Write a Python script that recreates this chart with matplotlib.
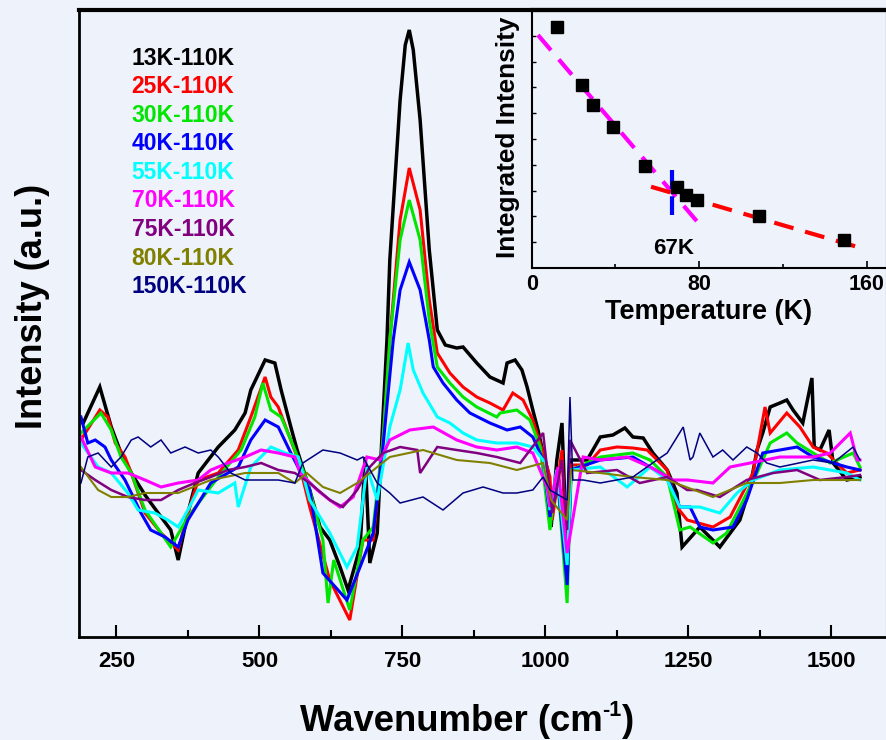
import matplotlib
matplotlib.use("Agg")
import matplotlib.pyplot as plt
from matplotlib.ticker import MultipleLocator

plt.rcParams['font.family'] = ['Liberation Sans', 'DejaVu Sans']
plt.rcParams['font.weight'] = 'bold'

BG = '#eef2fa'

# difference spectra (X K - 110 K), wavenumber (cm-1) / intensity (a.u.)
w_13 = [192, 221, 241, 258, 276, 300, 323, 345, 358, 375, 393, 428, 457, 475, 485, 510, 527, 538, 555, 566,
        588, 606, 623, 641, 655, 676, 685, 693, 706, 714, 723, 728, 746, 755, 762, 769, 781, 797, 811, 825,
        845, 856, 880, 903, 926, 933, 947, 959, 968, 978, 987, 996, 1005, 1010, 1020, 1029, 1038, 1045, 1073,
        1096, 1118, 1139, 1153, 1171, 1188, 1213, 1230, 1239, 1270, 1305, 1340, 1358, 1370, 1380, 1393, 1410,
        1422, 1433, 1450, 1466, 1470, 1480, 1496, 1503, 1527, 1550]
i_13 = [0.47, 0.83, 0.43, 0.17, -0.03, -0.25, -0.43, -0.60, -0.90, -0.43, -0.03, 0.23, 0.40, 0.57, 0.80, 1.10,
        1.07, 0.80, 0.43, 0.20, -0.20, -0.57, -0.70, -0.97, -1.20, -0.77, 0.13, -0.93, -0.63, 0.30, 1.30, 2.10,
        3.70, 4.25, 4.40, 4.20, 3.50, 2.20, 1.40, 1.25, 1.22, 1.23, 1.07, 0.93, 0.87, 1.07, 1.10, 1.00, 0.83,
        0.60, 0.40, 0.17, -0.03, -0.57, 0.10, 0.47, -0.90, 0.10, 0.10, 0.33, 0.35, 0.42, 0.33, 0.32, 0.17, 0.00,
        -0.23, -0.77, -0.57, -0.77, -0.50, -0.17, 0.20, 0.37, 0.63, 0.67, 0.70, 0.60, 0.47, 0.92, 0.23, 0.20,
        0.40, 0.07, -0.10, -0.07]

w_25 = [188, 221, 235, 248, 265, 276, 300, 328, 358, 375, 393, 428, 463, 485, 510, 520, 533, 550, 568, 588,
        623, 658, 681, 699, 716, 728, 746, 762, 781, 797, 811, 833, 856, 880, 903, 926, 943, 961, 978, 996,
        1008, 1012, 1029, 1038, 1045, 1073, 1096, 1125, 1153, 1178, 1213, 1230, 1248, 1293, 1323, 1363, 1384,
        1393, 1422, 1445, 1468, 1492, 1527, 1550]
i_25 = [0.30, 0.60, 0.53, 0.27, 0.13, -0.03, -0.43, -0.63, -0.80, -0.43, -0.10, -0.03, 0.20, 0.53, 0.93, 0.73,
        0.63, 0.37, 0.10, -0.37, -1.10, -1.50, -0.70, -0.70, 0.30, 1.30, 2.50, 3.02, 2.60, 1.70, 1.17, 0.97,
        0.83, 0.73, 0.67, 0.60, 0.77, 0.70, 0.50, 0.17, -0.07, -0.50, 0.20, -1.10, 0.05, 0.05, 0.20, 0.23, 0.22,
        0.20, 0.00, -0.37, -0.50, -0.57, -0.47, -0.03, 0.63, 0.37, 0.57, 0.43, 0.23, 0.17, -0.03, 0.00]

w_30 = [188, 223, 241, 258, 276, 300, 345, 375, 428, 468, 492, 506, 520, 538, 555, 583, 611, 620, 630, 658,
        681, 699, 716, 728, 746, 762, 781, 797, 811, 833, 856, 880, 915, 921, 950, 973, 991, 1008, 1020, 1038,
        1045, 1096, 1153, 1183, 1213, 1235, 1253, 1293, 1317, 1340, 1370, 1393, 1422, 1440, 1468, 1498, 1538,
        1550]
i_30 = [0.37, 0.57, 0.40, 0.13, -0.03, -0.40, -0.77, -0.47, -0.07, 0.20, 0.53, 0.87, 0.60, 0.53, 0.30, -0.10,
        -0.70, -1.33, -0.90, -1.40, -0.70, -0.57, 0.30, 1.30, 2.30, 2.70, 2.30, 1.50, 1.03, 0.87, 0.73, 0.63,
        0.53, 0.57, 0.60, 0.50, 0.23, -0.60, 0.00, -1.33, 0.00, 0.13, 0.17, 0.10, -0.07, -0.60, -0.57, -0.73,
        -0.63, -0.37, -0.03, 0.27, 0.37, 0.27, 0.17, 0.07, 0.17, 0.03]

w_40 = [188, 200, 213, 230, 241, 265, 293, 310, 335, 358, 375, 415, 463, 485, 510, 533, 555, 588, 611, 653,
        676, 699, 716, 734, 746, 762, 781, 797, 804, 821, 845, 868, 903, 933, 956, 978, 996, 1008, 1020, 1038,
        1045, 1096, 1153, 1213, 1235, 1253, 1270, 1293, 1328, 1352, 1380, 1410, 1440, 1468, 1527, 1550]
i_40 = [0.53, 0.27, 0.30, 0.23, 0.10, -0.10, -0.43, -0.60, -0.67, -0.77, -0.50, -0.13, 0.03, 0.30, 0.50, 0.43,
        0.17, -0.20, -1.03, -1.30, -0.97, -0.63, 0.23, 1.30, 1.80, 2.08, 1.80, 1.30, 1.03, 0.87, 0.70, 0.57,
        0.47, 0.40, 0.43, 0.33, 0.10, -0.47, 0.00, -1.15, 0.00, 0.10, 0.13, -0.07, -0.37, -0.37, -0.57, -0.60,
        -0.57, -0.30, 0.17, 0.20, 0.23, 0.13, 0.03, 0.00]

w_55 = [188, 218, 241, 270, 288, 317, 340, 358, 375, 393, 428, 457, 463, 485, 520, 545, 568, 588, 623, 653,
        671, 688, 706, 728, 746, 760, 769, 786, 811, 833, 856, 880, 915, 950, 978, 996, 1008, 1020, 1038, 1045,
        1096, 1143, 1183, 1213, 1235, 1270, 1305, 1335, 1363, 1410, 1468, 1527, 1550]
i_55 = [0.27, 0.03, -0.03, -0.23, -0.40, -0.43, -0.50, -0.57, -0.40, -0.20, -0.23, -0.13, -0.37, 0.03, 0.23,
        0.17, 0.13, -0.30, -0.63, -0.97, -0.77, 0.03, -0.30, 0.43, 0.80, 1.27, 1.00, 0.77, 0.53, 0.47, 0.37, 0.30,
        0.27, 0.27, 0.23, 0.10, -0.40, 0.00, -0.95, 0.00, 0.03, -0.17, 0.03, -0.10, -0.37, -0.37, -0.43, -0.23,
        -0.10, 0.00, 0.03, -0.03, -0.10]

w_70 = [188, 213, 241, 270, 300, 328, 358, 393, 415, 445, 475, 503, 533, 562, 571, 601, 623, 641, 664, 688,
        711, 728, 763, 804, 845, 880, 915, 950, 978, 1003, 1008, 1022, 1038, 1066, 1096, 1143, 1183, 1223, 1248,
        1293, 1323, 1358, 1410, 1468, 1498, 1533, 1545, 1550]
i_70 = [0.33, 0.03, -0.03, -0.03, -0.10, -0.17, -0.13, -0.10, 0.00, 0.07, 0.13, 0.20, 0.17, 0.13, -0.03, -0.20,
        -0.30, -0.37, -0.27, 0.13, 0.10, 0.30, 0.40, 0.43, 0.30, 0.23, 0.20, 0.23, 0.17, -0.17, -0.37, 0.03,
        -0.83, 0.13, 0.10, 0.13, 0.03, -0.10, -0.10, -0.13, 0.03, 0.07, 0.13, 0.13, 0.17, 0.37, 0.10, 0.10]

w_75 = [188, 213, 241, 270, 300, 328, 358, 387, 415, 445, 475, 503, 533, 562, 588, 623, 646, 671, 693, 716,
        746, 776, 781, 811, 845, 880, 915, 956, 996, 1012, 1029, 1038, 1043, 1073, 1125, 1165, 1213, 1248, 1265,
        1305, 1352, 1398, 1440, 1480, 1527, 1550]
i_75 = [0.00, -0.10, -0.20, -0.27, -0.30, -0.30, -0.20, -0.13, -0.07, 0.00, 0.03, 0.07, 0.00, -0.03, -0.13,
        -0.30, -0.37, -0.20, 0.03, 0.17, 0.23, 0.20, -0.03, 0.23, 0.20, 0.17, 0.13, 0.07, 0.37, -0.43, 0.10,
        -0.60, 0.30, -0.03, 0.00, -0.13, -0.07, -0.20, -0.20, -0.27, -0.10, -0.03, 0.00, -0.10, -0.07, -0.05]

w_80 = [188, 218, 241, 270, 300, 358, 415, 475, 533, 562, 583, 611, 641, 671, 728, 786, 845, 903, 950, 996,
        1010, 1038, 1045, 1096, 1153, 1213, 1293, 1352, 1410, 1468, 1527, 1550]
i_80 = [0.03, -0.20, -0.27, -0.27, -0.23, -0.23, -0.10, -0.03, -0.03, -0.13, -0.03, -0.17, -0.23, -0.13, 0.13,
        0.20, 0.10, 0.07, 0.00, 0.07, -0.30, -0.50, 0.00, -0.03, -0.07, -0.10, -0.27, -0.13, -0.13, -0.10,
        -0.10, -0.10]

w_150 = [188, 200, 218, 241, 258, 276, 288, 310, 328, 345, 370, 393, 415, 428, 450, 475, 498, 533, 562, 576,
         611, 641, 671, 681, 706, 728, 746, 786, 821, 856, 891, 926, 950, 978, 996, 1008, 1038, 1043, 1048,
         1066, 1096, 1153, 1195, 1213, 1241, 1253, 1258, 1270, 1293, 1310, 1328, 1352, 1370, 1387, 1410, 1468,
         1503, 1538, 1550]
i_150 = [-0.13, 0.13, 0.17, 0.03, 0.13, 0.30, 0.33, 0.23, 0.30, 0.17, 0.23, 0.17, 0.20, 0.13, -0.03, -0.10,
         -0.10, -0.10, -0.13, 0.07, 0.20, 0.17, 0.10, 0.13, -0.13, -0.23, -0.33, -0.27, -0.40, -0.23, -0.17,
         -0.23, -0.23, -0.20, -0.07, -0.20, -0.30, 0.73, -0.10, -0.10, -0.13, -0.07, 0.10, 0.17, 0.43, 0.10,
         0.13, 0.37, 0.13, 0.20, 0.10, 0.23, 0.17, 0.07, 0.03, 0.10, 0.07, 0.23, 0.10]

labels = ['13K-110K', '25K-110K', '30K-110K', '40K-110K', '55K-110K',
          '70K-110K', '75K-110K', '80K-110K', '150K-110K']
colors = ['black', '#ff0000', '#00e600', '#0000ff', '#00ffff',
          '#ff00ff', '#800080', '#808000', '#000080']
widths = [2.5, 2.2, 2.2, 2.2, 2.2, 2.2, 1.8, 1.5, 1.1]
series = [(w_13, i_13), (w_25, i_25), (w_30, i_30), (w_40, i_40), (w_55, i_55),
          (w_70, i_70), (w_75, i_75), (w_80, i_80), (w_150, i_150)]

# inset: integrated intensity vs temperature
temp_pts = [12, 24.2, 29.1, 39, 54, 69.2, 73.8, 79, 108.7, 149]
integ_pts = [9.35, 7.09, 6.32, 5.45, 3.95, 3.13, 2.84, 2.64, 2.03, 1.09]
fit_low_t = [3, 79]
fit_low_i = [9.03, 1.8]
fit_high_t = [57, 155]
fit_high_i = [3.15, 0.83]
t_trans = 67
trans_i = [2.05, 4.03]

fig = plt.figure(figsize=(8.87, 7.40), dpi=100, facecolor=BG)
ax = fig.add_axes([79 / 887, 103 / 740, 807 / 887, 627 / 740])
ax.set_facecolor(BG)

for (w, y), c, lw in zip(series, colors, widths):
    ax.plot(w, y, color=c, lw=lw, solid_joinstyle='miter')

ax.set_xlim(184.6, 1595.5)
ax.set_ylim(-1.67, 4.60)
ax.xaxis.set_major_locator(MultipleLocator(250))
ax.xaxis.set_minor_locator(MultipleLocator(125))
ax.tick_params(axis='x', which='major', direction='in', length=9, width=1.5, pad=10, labelsize=16)
ax.tick_params(axis='x', which='minor', direction='in', length=5, width=1.5)
ax.set_yticks([])
for lab in ax.get_xticklabels():
    lab.set_fontweight('bold')
ax.spines['left'].set_linewidth(2)
ax.spines['bottom'].set_linewidth(2)
ax.spines['top'].set_linewidth(3)
ax.spines['right'].set_color('#c8ccd4')
ax.spines['right'].set_linewidth(1)

for k, (lab, c) in enumerate(zip(labels, colors)):
    ax.text(0.0653, 0.9234 - 0.0456 * k, lab, color=c, fontsize=16.5, fontweight='bold',
            transform=ax.transAxes, ha='left', va='center')

# x label built from pieces so the superscript keeps a short hyphen
renderer = fig.canvas.get_renderer()
parts = [('Wavenumber (cm', 26.3, 0), ('-1', 15.5, 15), (')', 26.3, 0)]
objs = []
total = 0
for s, fs, dy in parts:
    t = fig.text(0, 0, s, fontsize=fs, fontweight='bold', ha='left', va='baseline')
    wpx = t.get_window_extent(renderer).width
    objs.append((t, wpx, dy))
    total += wpx
x_px = 467 - total / 2
base_px = 740 - 731
for t, wpx, dy in objs:
    t.set_position((x_px / 887, (base_px + dy) / 740))
    x_px += wpx

fig.text(33 / 887, 1 - 306 / 740, 'Intensity (a.u.)', ha='center', va='center', rotation=90,
         fontsize=26, fontweight='bold')

ins = fig.add_axes([531.7 / 887, 472 / 740, 354.3 / 887, 258 / 740])
ins.set_facecolor('none')
ins.plot(fit_low_t, fit_low_i, color='#ff00ff', lw=3, dashes=(4.8, 2.9))
ins.plot(fit_high_t, fit_high_i, color='#ff0000', lw=3, dashes=(4.8, 2.9))
ins.plot([t_trans, t_trans], trans_i, color='#0000ff', lw=3, dashes=(4.5, 1.8))
ins.plot(temp_pts, integ_pts, 's', color='black', ms=8.5, ls='none')
ins.set_xlim(0, 169.2)
ins.set_ylim(0, 10)
ins.set_xticks([0, 80, 160])
ins.set_xticks([40, 120], minor=True)
ins.set_yticks(range(1, 10))
ins.set_yticklabels([])
ins.tick_params(axis='x', which='major', direction='in', length=5, width=1.2, pad=4, labelsize=15.5)
ins.tick_params(axis='x', which='minor', direction='in', length=3, width=1.2)
ins.tick_params(axis='y', direction='in', length=3, width=1.0)
for lab in ins.get_xticklabels():
    lab.set_fontweight('bold')
ins.spines['left'].set_linewidth(1.5)
ins.spines['bottom'].set_linewidth(1.5)
ins.spines['top'].set_linewidth(3)
ins.spines['right'].set_color('#c8ccd4')
ins.spines['right'].set_linewidth(1)
ins.text(t_trans + 1, 0.75, '67K', fontsize=16, fontweight='bold', ha='center', va='center')
fig.text(709 / 887, 1 - 312 / 740, 'Temperature (K)', ha='center', va='center', fontsize=19.5, fontweight='bold')
fig.text(508 / 887, 1 - 137 / 740, 'Integrated Intensity', ha='center', va='center', rotation=90,
         fontsize=18.8, fontweight='bold')

fig.savefig('out.png', dpi=100, facecolor=BG)
